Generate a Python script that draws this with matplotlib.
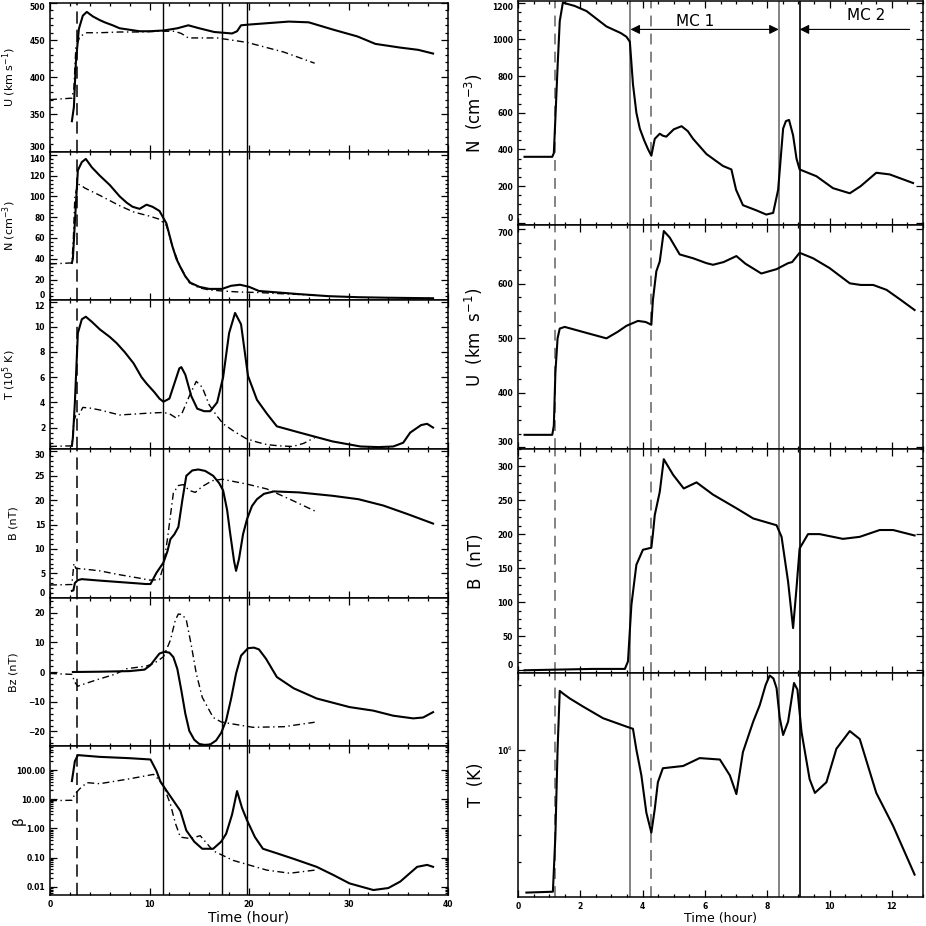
import matplotlib
matplotlib.use('Agg')
import matplotlib.pyplot as plt
import numpy as np
from matplotlib.ticker import AutoMinorLocator, FixedLocator, FixedFormatter, LogLocator, NullFormatter

# ---------------- left column (time in hours, 0-40) ----------------
u_sim_t = [2.2, 2.4, 2.6, 2.9, 3.3, 3.7, 4.3, 5.0, 5.5, 6.3, 7, 8, 9, 10, 11.4, 12.8, 13.9, 15, 16.5, 18.3, 18.8, 19.2, 20, 22, 24, 26, 28.5, 30.9, 32.7, 35.2, 37, 38.5]
u_sim_v = [341, 360, 420, 465, 483, 488, 482, 477, 474, 470, 466, 464, 462, 462, 463, 466, 470, 466, 461, 459, 462, 470, 471, 473, 475, 474, 464, 455, 445, 440, 437, 432]
u_obs_t = [0, 2.2, 2.4, 2.6, 3.0, 3.7, 5, 7, 9, 11, 12.5, 13.2, 13.9, 16.8, 19.8, 23.5, 26.6]
u_obs_v = [370, 372, 385, 440, 455, 460, 460, 461, 461, 462, 462, 459, 453, 453, 447, 434, 419]

n_sim_t = [2.2, 2.3, 2.5, 2.8, 3.2, 3.6, 4.2, 5, 6, 7, 7.7, 8.3, 9.0, 9.7, 10.3, 11.0, 11.7, 12.3, 12.7, 13.1, 13.6, 14.1, 15, 16, 17.3, 18.2, 19.1, 20.0, 21, 23, 25, 28, 31, 34, 38.5]
n_sim_v = [36, 40, 75, 125, 133, 136, 128, 120, 111, 100, 94, 90, 88, 92, 90, 86, 74, 52, 40, 32, 23, 17, 13, 11, 11, 14, 15, 13, 9, 7.5, 6, 4, 3, 2.5, 2]
n_obs_t = [0, 2.2, 2.35, 2.5, 2.8, 3.2, 3.5, 5, 6, 7, 8.4, 10, 11, 11.7, 12.3, 13, 14, 15, 16, 17.3, 19, 21, 23, 26.6]
n_obs_v = [35, 36, 60, 100, 112, 110, 108, 101, 96, 91, 85, 81, 78, 72, 52, 34, 17, 12, 10, 9, 8, 7.5, 6.5, 5]

t_sim_t = [2.2, 2.3, 2.5, 2.8, 3.2, 3.6, 4.2, 5.0, 6.0, 6.7, 7.5, 8.4, 9.2, 9.7, 10.5, 11.0, 11.4, 12.0, 12.5, 13.0, 13.2, 13.6, 14.2, 14.8, 15.5, 16.1, 16.8, 17.4, 18.0, 18.6, 19.2, 19.9, 20.8, 21.8, 22.8, 25.1, 28.4, 31.2, 33, 34.5, 35.5, 36.2, 37.3, 37.9, 38.5]
t_sim_v = [0.55, 1.2, 4, 9.5, 10.6, 10.8, 10.4, 9.8, 9.2, 8.7, 8.0, 7.1, 6.0, 5.5, 4.8, 4.3, 4.05, 4.3, 5.5, 6.7, 6.8, 6.2, 4.5, 3.5, 3.3, 3.3, 4.0, 6.0, 9.5, 11.1, 10.2, 6.1, 4.2, 3.1, 2.1, 1.6, 0.9, 0.5, 0.45, 0.5, 0.8, 1.6, 2.2, 2.3, 2.0]
t_obs_t = [0, 2.2, 2.4, 2.6, 2.9, 3.3, 4, 5, 6, 7, 8, 9, 10, 11.4, 12.0, 12.7, 13.3, 14.0, 14.7, 15.3, 16, 16.8, 17.4, 18.5, 19.7, 20.8, 21.8, 23, 24.4, 25.5, 26.6]
t_obs_v = [0.5, 0.55, 2.5, 3.0, 3.0, 3.6, 3.55, 3.4, 3.2, 3.0, 3.05, 3.1, 3.15, 3.2, 3.1, 2.75, 3.2, 4.5, 5.67, 5.2, 3.8, 2.9, 2.3, 1.7, 1.13, 0.85, 0.65, 0.55, 0.5, 0.75, 1.2]

b_sim_t = [2.2, 2.35, 2.5, 2.8, 3.2, 5, 7, 9, 9.6, 10.1, 10.7, 11.4, 11.8, 12.1, 12.5, 12.9, 13.3, 13.7, 14.3, 14.9, 15.6, 16.4, 17.0, 17.4, 17.8, 18.1, 18.5, 18.7, 19.0, 19.4, 19.8, 20.3, 20.8, 21.5, 22.5, 25, 28.4, 31, 33.5, 36, 38.5]
b_sim_v = [1.4, 1.5, 3.0, 3.6, 3.8, 3.5, 3.2, 2.9, 2.8, 2.8, 5.1, 7.2, 9.5, 12.0, 13.0, 14.5, 20, 25.0, 26.1, 26.3, 26.0, 25, 23.5, 22, 18, 13.3, 7.5, 5.5, 8, 13, 16.1, 18.8, 20.2, 21.3, 21.8, 21.6, 20.9, 20.2, 18.9, 17.1, 15.2]
b_obs_t = [0, 2.2, 2.4, 2.6, 3.3, 5, 7, 9, 10, 11, 11.4, 11.8, 12.4, 12.9, 13.4, 14.0, 14.6, 15.3, 16.3, 17.3, 19.8, 21.8, 24.1, 26.6]
b_obs_v = [2.6, 2.7, 7.0, 6.0, 5.9, 5.5, 4.7, 4.0, 3.6, 3.7, 6.5, 12, 21.5, 23, 23.2, 22.0, 21.6, 22.8, 24.0, 24.3, 23.3, 22.3, 20.2, 17.8]

bz_sim_t = [2.3, 5, 8, 9.5, 10.1, 10.6, 11.0, 11.5, 12.0, 12.4, 12.8, 13.2, 13.6, 14.0, 14.5, 15.0, 15.5, 16.1, 16.7, 17.2, 17.7, 18.2, 18.7, 19.2, 19.9, 20.5, 21.0, 21.7, 22.8, 24.5, 26.8, 30.1, 32.5, 34.5, 36.5, 37.5, 38.5]
bz_sim_v = [0, 0.1, 0.3, 0.8, 2.3, 4.5, 6.2, 6.8, 6.5, 5.0, 1.0, -6.2, -14, -19.8, -22.8, -24.2, -24.5, -24.4, -23, -20.5, -16.3, -9, -0.5, 5.5, 8.0, 8.2, 7.6, 4.5, -1.7, -5.5, -8.9, -11.8, -13, -14.7, -15.6, -15.3, -13.5]
bz_obs_t = [0, 2.2, 2.5, 2.8, 3.0, 5, 6.5, 7.7, 9.7, 10.5, 11.4, 12.1, 12.6, 12.9, 13.3, 13.7, 14.2, 14.7, 15.3, 16.4, 17.2, 18.4, 20.4, 23.5, 26.6]
bz_obs_v = [-0.5, -0.8, -3.5, -4.8, -4.5, -2.3, -0.8, 1.1, 2.0, 3.0, 5.1, 10.7, 17.5, 19.5, 19.3, 17.5, 9, -0.5, -8.5, -15.3, -16.8, -17.5, -18.6, -18.4, -16.9]

beta_sim_t = [2.2, 2.5, 2.8, 5, 8, 10.1, 10.7, 11.1, 11.5, 12.3, 13.1, 13.7, 14.5, 15.3, 16.4, 17.2, 17.7, 18.3, 18.8, 19.3, 19.8, 20.6, 21.4, 22.8, 24.5, 26.8, 28.5, 30.1, 32.5, 34, 35.2, 36.9, 37.9, 38.5]
beta_sim_v = [42, 200, 325, 283, 255, 230, 93, 40, 25, 10, 4, 0.85, 0.35, 0.2, 0.2, 0.35, 0.65, 3, 19, 5, 1.9, 0.5, 0.2, 0.14, 0.09, 0.048, 0.025, 0.013, 0.0077, 0.009, 0.015, 0.048, 0.056, 0.048]
beta_obs_t = [0, 2.2, 2.5, 3.0, 3.7, 5, 8, 10.4, 11.0, 11.4, 12.1, 12.6, 13.1, 14.1, 15.1, 16.4, 18.4, 21.8, 24.1, 26.6]
beta_obs_v = [8.9, 9.2, 15, 23, 37, 34, 50, 71, 45, 29, 6.8, 1.5, 0.5, 0.45, 0.56, 0.17, 0.08, 0.037, 0.029, 0.037]

left_shock = 2.74
left_lines = [11.39, 17.32, 19.8]

# ---------------- right column (time in hours, 0-13) ----------------
rn_t = [0.21, 1.1, 1.15, 1.2, 1.27, 1.34, 1.44, 1.82, 2.2, 2.84, 3.3, 3.48, 3.59, 3.69, 3.8, 3.91, 4.05, 4.17, 4.28, 4.39, 4.55, 4.65, 4.76, 5.0, 5.25, 5.45, 5.62, 6.05, 6.58, 6.85, 7.0, 7.22, 7.65, 7.97, 8.19, 8.35, 8.51, 8.6, 8.7, 8.83, 8.94, 9.04, 9.58, 10.11, 10.65, 11.0, 11.5, 11.93, 12.68]
rn_v = [360, 360, 380, 570, 850, 1100, 1201, 1183, 1155, 1071, 1035, 1015, 988, 756, 600, 514, 450, 403, 366, 458, 486, 475, 470, 510, 527, 500, 458, 375, 310, 291, 180, 96, 68, 45, 54, 180, 514, 555, 561, 477, 350, 291, 254, 189, 161, 200, 273, 264, 217]

ru_t = [0.21, 1.1, 1.15, 1.2, 1.27, 1.34, 1.5, 2.2, 2.84, 3.2, 3.48, 3.85, 4.1, 4.28, 4.33, 4.44, 4.55, 4.68, 4.87, 5.19, 5.62, 6.05, 6.26, 6.6, 7.01, 7.3, 7.81, 8.3, 8.67, 8.8, 9.04, 9.47, 10.0, 10.65, 11.0, 11.4, 11.83, 12.3, 12.73]
ru_v = [323, 323, 340, 437, 500, 518, 521, 510, 500, 512, 523, 532, 530, 525, 570, 623, 641, 697, 685, 654, 647, 638, 635, 640, 651, 637, 619, 627, 638, 640, 657, 647, 629, 601, 598, 598, 589, 570, 552]

rb_t = [0.21, 2.4, 3.43, 3.53, 3.64, 3.8, 4.01, 4.28, 4.33, 4.39, 4.55, 4.68, 4.98, 5.32, 5.73, 6.26, 7.01, 7.55, 8.3, 8.46, 8.67, 8.83, 8.94, 9.04, 9.31, 9.68, 10.43, 10.97, 11.61, 12.04, 12.73]
rb_v = [0, 2, 2, 13, 96, 155, 177, 180, 200, 228, 262, 310, 287, 267, 276, 258, 238, 223, 213, 196, 130, 62, 121, 179, 200, 200, 193, 196, 206, 206, 198]

rt_t = [0.27, 1.12, 1.2, 1.27, 1.34, 1.45, 1.66, 2.09, 2.73, 3.48, 3.69, 3.8, 3.96, 4.12, 4.28, 4.39, 4.49, 4.65, 5.3, 5.83, 6.48, 6.8, 7.01, 7.22, 7.55, 7.76, 7.95, 8.08, 8.2, 8.3, 8.4, 8.51, 8.67, 8.86, 8.97, 9.1, 9.36, 9.53, 9.9, 10.22, 10.65, 10.97, 11.5, 12.04, 12.73]
rt_v = [2.17e5, 2.19e5, 3.98e5, 1.0e6, 1.875e6, 1.82e6, 1.73e6, 1.585e6, 1.40e6, 1.28e6, 1.25e6, 1.0e6, 7.6e5, 5.1e5, 4.12e5, 5.3e5, 7.06e5, 8.2e5, 8.4e5, 9.14e5, 9.0e5, 7.6e5, 6.22e5, 9.75e5, 1.35e6, 1.61e6, 2.0e6, 2.21e6, 2.14e6, 1.93e6, 1.41e6, 1.17e6, 1.35e6, 2.04e6, 1.9e6, 1.21e6, 7.3e5, 6.3e5, 7.06e5, 1.01e6, 1.22e6, 1.12e6, 6.3e5, 4.43e5, 2.63e5]

right_dashed = [1.18, 4.28]
right_grey = [3.61, 8.37]
right_black = 9.04

DASHDOT = (0, (5, 2.5, 1, 2.5))
GREY = '#7a7a7a'

fig = plt.figure(figsize=(9.26, 9.26), dpi=100)
W = H = 926.0


def px_axes(x0, x1, y_top, y_bot):
    return fig.add_axes([x0 / W, 1 - y_bot / H, (x1 - x0) / W, (y_bot - y_top) / H])


def style(ax, size=5.5):
    ax.tick_params(which='both', direction='in', top=True, right=True,
                   labelsize=size, width=0.9)
    ax.tick_params(which='major', length=5)
    ax.tick_params(which='minor', length=2.5)
    for lab in ax.get_xticklabels() + ax.get_yticklabels():
        lab.set_fontweight('bold')
    for s in ax.spines.values():
        s.set_linewidth(1.1)


def edge_labels(ax, yt, ylim):
    # keep labels at the panel edges inside their own panel
    labs = ax.get_yticklabels()
    span = ylim[1] - ylim[0]
    if abs(yt[0] - ylim[0]) < 0.04 * span:
        labs[0].set_va('bottom')
    if abs(yt[-1] - ylim[1]) < 0.04 * span:
        labs[-1].set_va('top')


# left column
lx0, lx1 = 50, 448
ltop, lbot = 3, 895
lh = (lbot - ltop) / 6.0
left_panels = [
    (u_sim_t, u_sim_v, u_obs_t, u_obs_v, (300, 500), [300, 350, 400, 450, 500], 'U (km s$^{-1}$)'),
    (n_sim_t, n_sim_v, n_obs_t, n_obs_v, (0, 143), [0, 20, 40, 60, 80, 100, 120, 140], 'N (cm$^{-3}$)'),
    (t_sim_t, t_sim_v, t_obs_t, t_obs_v, (0.3, 12.1), [2, 4, 6, 8, 10, 12], 'T (10$^5$ K)'),
    (b_sim_t, b_sim_v, b_obs_t, b_obs_v, (0, 30.5), [0, 5, 10, 15, 20, 25, 30], 'B (nT)'),
    (bz_sim_t, bz_sim_v, bz_obs_t, bz_obs_v, (-25, 25), [-20, -10, 0, 10, 20], 'Bz (nT)'),
    (beta_sim_t, beta_sim_v, beta_obs_t, beta_obs_v, (0.0052, 650), None, 'β'),
]
for i, (st, sv, ot, ov, ylim, yt, lab) in enumerate(left_panels):
    ax = px_axes(lx0, lx1, ltop + i * lh, ltop + (i + 1) * lh)
    ax.plot(ot, ov, color='black', lw=1.0, ls=DASHDOT)
    ax.plot(st, sv, color='black', lw=1.5)
    ax.axvline(left_shock, color='black', lw=1.1, ls=(0, (8, 4)))
    for xv in left_lines:
        ax.axvline(xv, color='black', lw=1.0)
    ax.set_xlim(0, 40)
    ax.xaxis.set_major_locator(FixedLocator([0, 10, 20, 30, 40]))
    ax.xaxis.set_minor_locator(AutoMinorLocator(5))
    if yt is None:
        ax.set_yscale('log')
        ax.set_ylim(*ylim)
        ax.yaxis.set_major_locator(FixedLocator([0.01, 0.1, 1, 10, 100]))
        ax.yaxis.set_major_formatter(FixedFormatter(['0.01', '0.10', '1.00', '10.00', '100.00']))
        ax.yaxis.set_minor_locator(LogLocator(base=10, subs=np.arange(2, 10)))
        ax.yaxis.set_minor_formatter(NullFormatter())
        ax.set_ylabel(lab, fontsize=10)
        ax.yaxis.set_label_coords(-0.062, 0.5)
    else:
        ax.set_ylim(*ylim)
        ax.set_yticks(yt)
        ax.yaxis.set_minor_locator(AutoMinorLocator(5))
        edge_labels(ax, yt, ylim)
        ax.set_ylabel(lab, fontsize=8)
        ax.yaxis.set_label_coords(-0.08, 0.5)
    if i < 5:
        ax.set_xticklabels([])
    else:
        ax.set_xlabel('Time (hour)', fontsize=10, labelpad=1)
    style(ax)

# right column
rx0, rx1 = 518, 923
rtop, rbot = 1, 897
rh = (rbot - rtop) / 4.0
right_panels = [
    (rn_t, rn_v, (-12, 1210), [0, 200, 400, 600, 800, 1000, 1200], 'N  (cm$^{-3}$)'),
    (ru_t, ru_v, (297, 708), [300, 400, 500, 600, 700], 'U  (km  s$^{-1}$)'),
    (rb_t, rb_v, (-4, 325), [0, 50, 100, 150, 200, 250, 300], 'B  (nT)'),
    (rt_t, rt_v, (2.07e5, 2.27e6), None, 'T  (K)'),
]
right_axes = []
for i, (t, v, ylim, yt, lab) in enumerate(right_panels):
    ax = px_axes(rx0, rx1, rtop + i * rh, rtop + (i + 1) * rh)
    for xv in right_dashed:
        ax.axvline(xv, color=GREY, lw=1.3, ls=(0, (6, 4)))
    for xv in right_grey:
        ax.axvline(xv, color=GREY, lw=1.3)
    ax.axvline(right_black, color='black', lw=1.2)
    ax.plot(t, v, color='black', lw=1.5)
    ax.set_xlim(0, 13)
    ax.xaxis.set_major_locator(FixedLocator([0, 2, 4, 6, 8, 10, 12]))
    ax.xaxis.set_minor_locator(AutoMinorLocator(4))
    if yt is None:
        ax.set_yscale('log')
        ax.set_ylim(*ylim)
        ax.yaxis.set_major_locator(FixedLocator([1e6]))
        ax.yaxis.set_major_formatter(FixedFormatter(['10$^6$']))
        ax.yaxis.set_minor_locator(LogLocator(base=10, subs=np.arange(2, 10)))
        ax.yaxis.set_minor_formatter(NullFormatter())
    else:
        ax.set_ylim(*ylim)
        ax.set_yticks(yt)
        ax.yaxis.set_minor_locator(AutoMinorLocator(4))
        edge_labels(ax, yt, ylim)
    if i < 3:
        ax.set_xticklabels([])
    else:
        ax.set_xlabel('Time (hour)', fontsize=9, labelpad=1)
    ax.set_ylabel(lab, fontsize=12)
    ax.yaxis.set_label_coords(-0.082, 0.5)
    style(ax)
    right_axes.append(ax)

# magnetic cloud annotations
axn = right_axes[0]
arrow_y = 1055
axn.annotate('', xy=(right_grey[0], arrow_y), xytext=(right_grey[1], arrow_y),
             arrowprops=dict(arrowstyle='<|-|>', color='black', lw=0.8,
                             mutation_scale=14, shrinkA=0, shrinkB=0))
axn.text(5.67, 1100, 'MC 1', fontsize=11, ha='center', va='center')
axn.annotate('', xy=(right_black, arrow_y), xytext=(12.57, arrow_y),
             arrowprops=dict(arrowstyle='-|>', color='black', lw=0.8,
                             mutation_scale=14, shrinkA=0, shrinkB=0))
axn.text(11.16, 1130, 'MC 2', fontsize=11, ha='center', va='center')

plt.savefig('out.png', dpi=100)
